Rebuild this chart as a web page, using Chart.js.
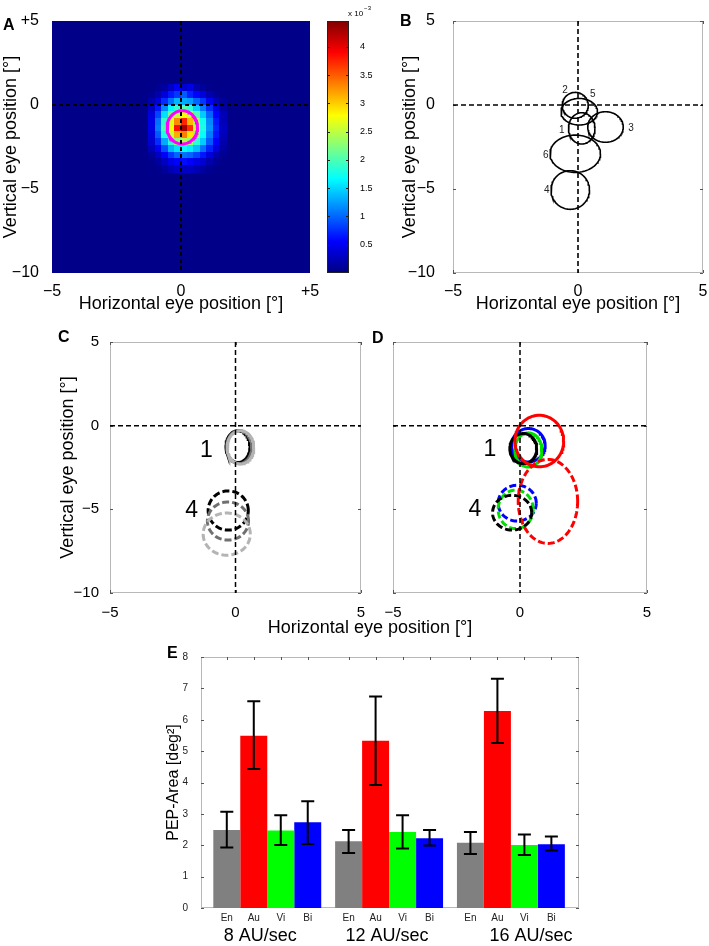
<!DOCTYPE html>
<html>
<head>
<meta charset="utf-8">
<script src="https://cdn.jsdelivr.net/npm/chart.js@4.4.0/dist/chart.umd.min.js"></script>
<style>
  body { margin: 0; background: #fff; }
  #fig { position: relative; width: 709px; height: 946px; overflow: hidden; font-family: "Liberation Sans", Arial, sans-serif; }
  #fig canvas { position: absolute; }
  .panel { position: absolute; font-weight: bold; font-size: 16px; line-height: 1; }
  .shared { position: absolute; font-size: 18px; line-height: 1; width: 300px; text-align: center; }
</style>
</head>
<body>
<div id="fig">
  <canvas id="chartA" width="320" height="320" style="left:0;top:0"></canvas>
  <canvas id="chartBar" width="60" height="290" style="left:320px;top:0"></canvas>
  <canvas id="chartB" width="329" height="320" style="left:380px;top:0"></canvas>
  <canvas id="chartC" width="330" height="320" style="left:40px;top:322px"></canvas>
  <canvas id="chartD" width="290" height="320" style="left:370px;top:322px"></canvas>
  <canvas id="chartE" width="440" height="306" style="left:150px;top:640px"></canvas>
  <div class="panel" style="left:3px;top:17px">A</div>
  <div class="panel" style="left:400px;top:13px">B</div>
  <div class="panel" style="left:58px;top:329px">C</div>
  <div class="panel" style="left:372px;top:330px">D</div>
  <div class="panel" style="left:167px;top:645px">E</div>
  <div class="shared" style="left:220px;top:618px">Horizontal eye position [°]</div>
</div>
<script>
// === DATA ===
const xRange = [-5, 5];
const yRange = [-10, 5];
const xTickValues = [-5, 0, 5];
const yTickValues = [-10, -5, 0, 5];
const xTickLabelsA = ["\u22125", "0", "+5"];
const yTickLabelsA = ["\u221210", "\u22125", "0", "+5"];
const xTickLabels = ["\u22125", "0", "5"];
const yTickLabels = ["\u221210", "\u22125", "0", "5"];

// panel A: fixation density (x 10^-3), cell centres in degrees
const heatX = [-1.125, -0.875, -0.625, -0.375, -0.125, 0.125, 0.375, 0.625, 0.875, 1.125, 1.375, 1.625];
const heatY = [1.0, 0.6, 0.2, -0.2, -0.6, -1.0, -1.4, -1.8, -2.2, -2.6, -3.0, -3.4, -3.8];
const heatVals = [
  [0.05, 0.08, 0.15, 0.30, 0.50, 0.35, 0.45, 0.20, 0.12, 0.06, 0.05, 0.05],
  [0.08, 0.20, 0.40, 0.65, 0.80, 0.95, 0.70, 0.55, 0.40, 0.20, 0.08, 0.05],
  [0.20, 0.40, 0.75, 1.05, 1.35, 1.30, 1.25, 1.00, 0.80, 0.50, 0.25, 0.10],
  [0.30, 0.65, 1.15, 1.65, 1.90, 2.05, 1.85, 1.45, 1.10, 0.75, 0.45, 0.15],
  [0.40, 0.85, 1.55, 2.15, 2.55, 2.75, 2.50, 2.00, 1.45, 1.00, 0.55, 0.25],
  [0.45, 1.05, 1.90, 2.65, 3.30, 3.75, 3.10, 2.40, 1.75, 1.15, 0.65, 0.25],
  [0.45, 1.10, 2.00, 2.75, 3.85, 4.30, 3.70, 2.55, 1.80, 1.20, 0.70, 0.30],
  [0.40, 0.95, 1.80, 2.55, 3.15, 3.35, 2.90, 2.30, 1.70, 1.10, 0.65, 0.25],
  [0.35, 0.75, 1.30, 1.85, 2.25, 2.45, 2.30, 1.85, 1.45, 0.95, 0.55, 0.20],
  [0.25, 0.50, 0.90, 1.35, 1.55, 1.70, 1.60, 1.40, 1.05, 0.70, 0.40, 0.15],
  [0.12, 0.30, 0.55, 0.80, 1.00, 1.05, 1.00, 0.85, 0.65, 0.40, 0.20, 0.08],
  [0.06, 0.15, 0.30, 0.45, 0.55, 0.60, 0.55, 0.45, 0.35, 0.20, 0.10, 0.05],
  [0.05, 0.06, 0.12, 0.22, 0.30, 0.28, 0.30, 0.22, 0.15, 0.08, 0.05, 0.05]
];
const heatCell = [0.25, 0.4];
const heatBackground = 0.04;
const colorMax = 4.46;
const colorTicks = [0.5, 1, 1.5, 2, 2.5, 3, 3.5, 4];
const colorTickLabels = ["0.5", "1", "1.5", "2", "2.5", "3", "3.5", "4"];
const pepA = [0.05, -1.33, 0.59, 0.99]; // cx, cy, rx, ry

// panel B: six subjects
const bNames = ["1", "2", "3", "4", "5", "6"];
const bCx = [0.15, -0.11, 1.10, -0.31, 0.05, -0.11];
const bCy = [-1.39, -0.02, -1.31, -5.06, -0.40, -2.90];
const bRx = [0.53, 0.52, 0.71, 0.77, 0.73, 1.01];
const bRy = [0.93, 0.77, 0.91, 1.15, 0.79, 1.11];
const bTextX = [-0.65, -0.52, 2.12, -1.25, 0.59, -1.29];
const bTextY = [-1.49, 0.90, -1.39, -5.10, 0.64, -2.98];

// panel C: subjects 1 and 4 at three speeds (black, grey, light grey)
const cS1Cx = [0.10, 0.15, 0.20];
const cS1Cy = [-1.25, -1.28, -1.30];
const cS1Rx = [0.48, 0.50, 0.53];
const cS1Ry = [0.95, 0.98, 1.00];
const cS4Cx = [-0.29, -0.30, -0.35];
const cS4Cy = [-5.07, -5.70, -6.48];
const cS4Rx = [0.80, 0.82, 0.94];
const cS4Ry = [1.17, 1.14, 1.26];

// panel D: subjects 1 and 4 per condition (En, Au, Vi, Bi)
const dS1Cx = [0.13, 0.76, 0.33, 0.33];
const dS1Cy = [-1.37, -0.92, -1.45, -1.17];
const dS1Rx = [0.53, 0.96, 0.53, 0.66];
const dS1Ry = [0.90, 1.54, 1.02, 1.00];
const dS4Cx = [-0.31, 1.10, -0.17, -0.11];
const dS4Cy = [-5.20, -4.53, -5.00, -4.63];
const dS4Rx = [0.77, 1.17, 0.69, 0.75];
const dS4Ry = [1.04, 2.51, 1.15, 1.07];
const subjNames = ["1", "4"];
const cTextX = [-1.16, -1.75];
const cTextY = [-1.47, -5.06];
const dTextX = [-1.19, -1.78];
const dTextY = [-1.46, -5.04];

// panel E: PEP area per speed and condition
const speeds = ["8 AU/sec", "12 AU/sec", "16 AU/sec"];
const conditions = ["En", "Au", "Vi", "Bi"];
const pepEn = [2.49, 2.13, 2.08];
const pepAu = [5.49, 5.33, 6.28];
const pepVi = [2.47, 2.42, 2.01];
const pepBi = [2.73, 2.22, 2.03];
const loEn = [1.93, 1.75, 1.72];
const hiEn = [3.07, 2.49, 2.42];
const loAu = [4.43, 3.92, 5.26];
const hiAu = [6.59, 6.74, 7.31];
const loVi = [2.01, 1.90, 1.69];
const hiVi = [2.96, 2.96, 2.34];
const loBi = [2.04, 1.99, 1.83];
const hiBi = [3.40, 2.49, 2.28];

// === STYLE ===
const FONT = '"Liberation Sans", Arial, Helvetica, sans-serif';
Chart.defaults.font.family = FONT;
Chart.defaults.color = "#000";
Chart.defaults.animation = false;
Chart.defaults.plugins.legend.display = false;
Chart.defaults.plugins.tooltip.enabled = false;

const condColors = ["#000000", "#ff0000", "#00e000", "#0000ff"];
const barColors = ["#808080", "#ff0000", "#00ff00", "#0000ff"];
const speedGreys = ["#000000", "#707070", "#b4b4b4"];
const speedLabelShift = [-7, -2, 20];

// MATLAB jet colormap
function jet(t) {
  t = Math.min(1, Math.max(0, t));
  const c = (v) => Math.round(255 * Math.min(1, Math.max(0, 1.5 - Math.abs(v))));
  return `rgb(${c(4 * t - 3)},${c(4 * t - 2)},${c(4 * t - 1)})`;
}

function ellipse(cx, cy, rx, ry) {
  const pts = [];
  for (let i = 0; i <= 96; i++) {
    const t = (i / 96) * 2 * Math.PI;
    pts.push({ x: cx + rx * Math.cos(t), y: cy + ry * Math.sin(t) });
  }
  return pts;
}

function lineSet(points, color, width, dash) {
  return { data: points, showLine: true, borderColor: color, borderWidth: width,
    borderDash: dash || [], pointRadius: 0, fill: false, tension: 0 };
}

function crossHair(width, dash) {
  return [
    lineSet([{ x: xRange[0], y: 0 }, { x: xRange[1], y: 0 }], "#000", width, dash),
    lineSet([{ x: 0, y: yRange[1] }, { x: 0, y: yRange[0] }], "#000", width, dash),
  ];
}

function fixedAxis(size) {
  return (s) => {
    if (s.isHorizontal()) s.height = size; else s.width = size;
    s.paddingLeft = s.paddingRight = s.paddingTop = s.paddingBottom = 0;
  };
}

function setTicks(values) {
  return (s) => { s.ticks = values.map((v) => ({ value: v })); };
}

function posAxes(o) {
  return {
    x: {
      type: "linear", min: xRange[0], max: xRange[1],
      afterBuildTicks: setTicks(xTickValues), afterFit: fixedAxis(o.xh),
      grid: { display: false }, border: { display: false },
      ticks: { font: { size: o.tickSize }, padding: o.xPad,
        callback: (v, i) => o.xLabels[i] },
      title: { display: !!o.xTitle, text: "Horizontal eye position [°]",
        font: { size: 18 }, padding: { top: 0, bottom: 5 } },
    },
    y: {
      type: "linear", min: yRange[0], max: yRange[1],
      afterBuildTicks: setTicks(yTickValues), afterFit: fixedAxis(o.yw),
      grid: { display: false }, border: { display: false },
      ticks: { display: !!o.yLabels, font: { size: o.tickSize }, padding: o.yPad,
        callback: (v, i) => (o.yLabels ? o.yLabels[i] : "") },
      title: { display: !!o.yTitle, text: "Vertical eye position [°]",
        font: { size: 18 }, padding: { top: o.yTitlePad, bottom: 0 } },
    },
  };
}

// === PLUGINS ===
const heatmapPlugin = {
  id: "heatmap",
  beforeDatasetsDraw(chart) {
    const { ctx, chartArea: a, scales: { x, y } } = chart;
    ctx.save();
    ctx.fillStyle = jet(heatBackground / colorMax);
    ctx.fillRect(a.left, a.top, a.width, a.height);
    heatVals.forEach((row, r) => row.forEach((v, c) => {
      const x0 = Math.floor(x.getPixelForValue(heatX[c] - heatCell[0] / 2));
      const x1 = Math.ceil(x.getPixelForValue(heatX[c] + heatCell[0] / 2));
      const y0 = Math.floor(y.getPixelForValue(heatY[r] + heatCell[1] / 2));
      const y1 = Math.ceil(y.getPixelForValue(heatY[r] - heatCell[1] / 2));
      ctx.fillStyle = jet(v / colorMax);
      ctx.fillRect(x0, y0, x1 - x0, y1 - y0);
    }));
    ctx.restore();
  },
};

const framePlugin = {
  id: "frame",
  beforeDatasetsDraw(chart, args, opts) {
    const { ctx, chartArea: a, scales: { x, y } } = chart;
    ctx.save();
    ctx.strokeStyle = "#b8b8b8";
    ctx.lineWidth = 1;
    ctx.strokeRect(a.left + 0.5, a.top + 0.5, a.width - 1, a.height - 1);
    ctx.strokeStyle = "#555";
    ctx.beginPath();
    let xs;
    if (opts.barMarks) {
      xs = [];
      chart.data.datasets.forEach((d, i) => chart.getDatasetMeta(i).data.forEach((b) => xs.push(b.x)));
    } else {
      xs = x.ticks.map((t) => x.getPixelForValue(t.value));
    }
    xs.forEach((px) => {
      px = Math.round(px) + 0.5;
      ctx.moveTo(px, a.top); ctx.lineTo(px, a.top + 3);
      if (!opts.barMarks) { ctx.moveTo(px, a.bottom); ctx.lineTo(px, a.bottom - 3); }
    });
    y.ticks.forEach((t) => {
      const py = Math.round(y.getPixelForValue(t.value)) + 0.5;
      ctx.moveTo(a.left, py); ctx.lineTo(a.left + 3, py);
      ctx.moveTo(a.right, py); ctx.lineTo(a.right - 3, py);
    });
    ctx.stroke();
    ctx.restore();
  },
};

const ellipseTextPlugin = {
  id: "ellipseText",
  afterDatasetsDraw(chart, args, opts) {
    const { ctx, scales: { x, y } } = chart;
    ctx.save();
    ctx.font = opts.size + "px " + FONT;
    ctx.fillStyle = opts.color;
    ctx.textAlign = "center";
    ctx.textBaseline = "middle";
    opts.texts.forEach((t, i) => ctx.fillText(t, x.getPixelForValue(opts.xs[i]), y.getPixelForValue(opts.ys[i])));
    ctx.restore();
  },
};

const colorbarPlugin = {
  id: "colorbar",
  afterDatasetsDraw(chart) {
    const { ctx, chartArea: a, scales: { y } } = chart;
    ctx.save();
    ctx.strokeStyle = "#222";
    ctx.lineWidth = 1;
    ctx.strokeRect(a.left + 0.5, a.top + 0.5, a.width - 1, a.height - 1);
    ctx.beginPath();
    y.ticks.forEach((t) => {
      const py = Math.round(y.getPixelForValue(t.value)) + 0.5;
      ctx.moveTo(a.left, py); ctx.lineTo(a.left + 3, py);
      ctx.moveTo(a.right, py); ctx.lineTo(a.right - 3, py);
    });
    ctx.stroke();
    ctx.fillStyle = "#000";
    ctx.font = "8px " + FONT;
    ctx.fillText("x 10", a.right - 1, 16);
    const w = ctx.measureText("x 10").width;
    ctx.font = "6px " + FONT;
    ctx.fillText("\u22123", a.right + w, 10);
    ctx.restore();
  },
};

const errorBarPlugin = {
  id: "errorBars",
  afterDatasetsDraw(chart) {
    const { ctx, scales: { y } } = chart;
    ctx.save();
    ctx.strokeStyle = "#000";
    ctx.lineWidth = 2;
    chart.data.datasets.forEach((ds, d) => {
      chart.getDatasetMeta(d).data.forEach((bar, i) => {
        const lo = y.getPixelForValue(ds.errLo[i]);
        const hi = y.getPixelForValue(ds.errHi[i]);
        ctx.beginPath();
        ctx.moveTo(bar.x, lo); ctx.lineTo(bar.x, hi);
        ctx.moveTo(bar.x - 6.5, lo); ctx.lineTo(bar.x + 6.5, lo);
        ctx.moveTo(bar.x - 6.5, hi); ctx.lineTo(bar.x + 6.5, hi);
        ctx.stroke();
      });
    });
    ctx.restore();
  },
};

const barLabelPlugin = {
  id: "barLabels",
  afterDraw(chart) {
    const { ctx, chartArea: a, scales: { x } } = chart;
    ctx.save();
    ctx.textAlign = "center";
    ctx.textBaseline = "middle";
    ctx.fillStyle = "#222";
    ctx.font = "10px " + FONT;
    chart.data.datasets.forEach((ds, d) => {
      chart.getDatasetMeta(d).data.forEach((bar) => ctx.fillText(ds.label, bar.x, a.bottom + 10));
    });
    ctx.fillStyle = "#000";
    ctx.font = "18px " + FONT;
    chart.data.labels.forEach((lab, i) => ctx.fillText(lab, x.getPixelForValue(i) + speedLabelShift[i], a.bottom + 28));
    ctx.restore();
  },
};

// === PANEL A: HEATMAP ===
new Chart(document.getElementById("chartA"), {
  type: "scatter",
  data: {
    datasets: [
      ...crossHair(2, [4, 3]),
      lineSet(ellipse(pepA[0], pepA[1], pepA[2], pepA[3]), "#ff00ff", 3),
    ],
  },
  options: {
    responsive: false,
    layout: { padding: { left: 0, top: 21, right: 10, bottom: 0 } },
    scales: posAxes({ xh: 47, yw: 52, tickSize: 16, xPad: 1, yPad: 5,
      xLabels: xTickLabelsA, yLabels: yTickLabelsA, xTitle: true, yTitle: true, yTitlePad: 0 }),
  },
  plugins: [heatmapPlugin],
});

// === COLOUR BAR ===
new Chart(document.getElementById("chartBar"), {
  type: "bar",
  data: {
    labels: [""],
    datasets: [{
      data: [[0, colorMax]],
      barPercentage: 1,
      categoryPercentage: 1,
      backgroundColor: (c) => {
        const a = c.chart.chartArea;
        if (!a) return "#00f";
        const g = c.chart.ctx.createLinearGradient(0, a.bottom, 0, a.top);
        for (let i = 0; i <= 16; i++) g.addColorStop(i / 16, jet(i / 16));
        return g;
      },
    }],
  },
  options: {
    responsive: false,
    layout: { padding: { left: 7, top: 21, right: 0, bottom: 17 } },
    scales: {
      x: { display: false },
      y: {
        position: "right", min: 0, max: colorMax,
        afterBuildTicks: setTicks(colorTicks), afterFit: fixedAxis(31),
        grid: { display: false }, border: { display: false },
        ticks: { font: { size: 9 }, padding: 3, callback: (v, i) => colorTickLabels[i] },
      },
    },
  },
  plugins: [colorbarPlugin],
});

// === PANEL B: ALL SUBJECTS ===
new Chart(document.getElementById("chartB"), {
  type: "scatter",
  data: {
    datasets: [
      ...crossHair(1.6, [5, 3]),
      ...bNames.map((n, i) => lineSet(ellipse(bCx[i], bCy[i], bRx[i], bRy[i]), "#000", 1.6)),
    ],
  },
  options: {
    responsive: false,
    layout: { padding: { left: 0, top: 21, right: 6, bottom: 0 } },
    scales: posAxes({ xh: 47, yw: 73, tickSize: 16, xPad: 1, yPad: 10,
      xLabels: xTickLabels, yLabels: yTickLabels, xTitle: true, yTitle: true, yTitlePad: 19 }),
    plugins: { ellipseText: { texts: bNames, xs: bTextX, ys: bTextY, size: 10, color: "#222" } },
  },
  plugins: [framePlugin, ellipseTextPlugin],
});

// === PANEL C: SPEEDS ===
new Chart(document.getElementById("chartC"), {
  type: "scatter",
  data: {
    datasets: [
      ...crossHair(1.5, [5, 3]),
      ...speedGreys.map((col, i) => lineSet(ellipse(cS4Cx[i], cS4Cy[i], cS4Rx[i], cS4Ry[i]), col, 3, [7, 3])).reverse(),
      ...speedGreys.map((col, i) => lineSet(ellipse(cS1Cx[i], cS1Cy[i], cS1Rx[i], cS1Ry[i]), col, 3)).reverse(),
    ],
  },
  options: {
    responsive: false,
    layout: { padding: { left: 0, top: 20, right: 9, bottom: 0 } },
    scales: posAxes({ xh: 49, yw: 70, tickSize: 15, xPad: 3, yPad: 3,
      xLabels: xTickLabels, yLabels: yTickLabels, xTitle: false, yTitle: true, yTitlePad: 17 }),
    plugins: { ellipseText: { texts: subjNames, xs: cTextX, ys: cTextY, size: 23, color: "#000" } },
  },
  plugins: [framePlugin, ellipseTextPlugin],
});

// === PANEL D: CONDITIONS ===
const dOrder = [1, 0, 2, 3];
new Chart(document.getElementById("chartD"), {
  type: "scatter",
  data: {
    datasets: [
      ...crossHair(1.5, [5, 3]),
      ...dOrder.map((i) => lineSet(ellipse(dS4Cx[i], dS4Cy[i], dS4Rx[i], dS4Ry[i]), condColors[i], 3, [7, 3])),
      ...dOrder.map((i) => lineSet(ellipse(dS1Cx[i], dS1Cy[i], dS1Rx[i], dS1Ry[i]), condColors[i], 3)),
    ],
  },
  options: {
    responsive: false,
    layout: { padding: { left: 0, top: 20, right: 13, bottom: 0 } },
    scales: posAxes({ xh: 49, yw: 23, tickSize: 15, xPad: 3, yPad: 3,
      xLabels: xTickLabels, yLabels: null, xTitle: false, yTitle: false, yTitlePad: 0 }),
    plugins: { ellipseText: { texts: subjNames, xs: dTextX, ys: dTextY, size: 23, color: "#000" } },
  },
  plugins: [framePlugin, ellipseTextPlugin],
});

// === PANEL E: PEP AREA BARS ===
const pepMeans = [pepEn, pepAu, pepVi, pepBi];
const pepLo = [loEn, loAu, loVi, loBi];
const pepHi = [hiEn, hiAu, hiVi, hiBi];
new Chart(document.getElementById("chartE"), {
  type: "bar",
  data: {
    labels: speeds,
    datasets: conditions.map((c, i) => ({
      label: c,
      data: pepMeans[i],
      errLo: pepLo[i],
      errHi: pepHi[i],
      backgroundColor: barColors[i],
      borderWidth: 0,
      barPercentage: 1,
      categoryPercentage: 0.886,
    })),
  },
  options: {
    responsive: false,
    layout: { padding: { left: 0, top: 17, right: 11, bottom: 0 } },
    scales: {
      x: {
        afterFit: fixedAxis(38),
        // group centres sit a little off the even category grid
        afterBuildTicks: (s) => { s._startValue = -0.544; s._valueRange = 3.103; },
        grid: { display: false }, border: { display: false },
        ticks: { display: false },
      },
      y: {
        min: 0, max: 8,
        afterFit: fixedAxis(51),
        grid: { display: false }, border: { display: false },
        ticks: { stepSize: 1, font: { size: 10 }, color: "#222", padding: 5 },
        title: { display: true, text: "PEP-Area [deg²]", font: { size: 16 }, padding: { top: 14, bottom: 0 } },
      },
    },
    plugins: { frame: { barMarks: true } },
  },
  plugins: [framePlugin, errorBarPlugin, barLabelPlugin],
});
</script>
</body>
</html>
